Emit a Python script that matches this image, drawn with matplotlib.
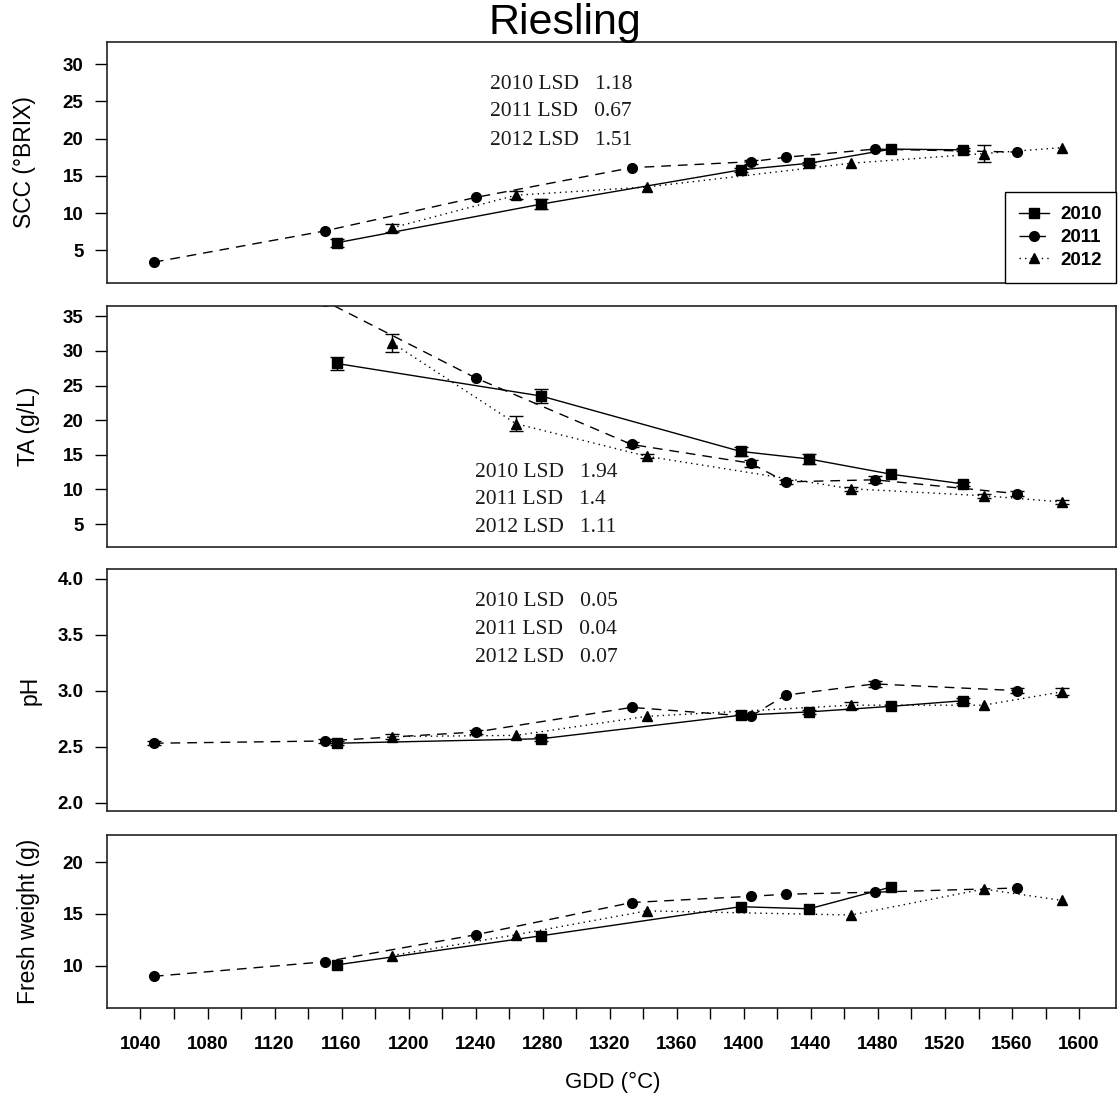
import numpy as np
import matplotlib
matplotlib.use("Agg")
import matplotlib.pyplot as plt

plt.rcParams['font.family'] = ['Liberation Sans', 'DejaVu Sans']

# sampling dates (GDD) for each season
gdd_2010 = [1157, 1279, 1398, 1439, 1488, 1531]
gdd_2011 = [1048, 1150, 1240, 1333, 1404, 1425, 1478, 1563]
gdd_2012 = [1190, 1264, 1342, 1464, 1543, 1590]

# soluble solids (Brix)
scc_2010 = [6.0, 11.2, 15.8, 16.7, 18.6, 18.5]
scc_2011 = [3.4, 7.6, 12.1, 16.1, 16.9, 17.5, 18.6, 18.2]
scc_2012 = [8.0, 12.4, 13.5, 16.7, 18.0, 18.8]
scc_err_2010 = [0.5, 0.7, 0.3, 0.2, 0.0, 0.2]
scc_err_2011 = [0.0, 0.0, 0.0, 0.0, 0.3, 0.0, 0.0, 0.0]
scc_err_2012 = [0.5, 0.5, 0.0, 0.0, 1.1, 0.0]

# titratable acidity (g/L)
ta_2010 = [28.2, 23.5, 15.5, 14.4, 12.2, 10.8]
ta_2011 = [41.0, 37.2, 26.1, 16.5, 13.8, 11.1, 11.4, 9.4]
ta_2012 = [31.2, 19.5, 14.8, 10.1, 9.1, 8.2]
ta_err_2010 = [0.9, 0.95, 0.7, 0.7, 0.0, 0.3]
ta_err_2011 = [0.0, 0.0, 0.0, 0.3, 0.5, 0.3, 0.5, 0.4]
ta_err_2012 = [1.3, 1.1, 0.3, 0.3, 0.3, 0.3]

# pH
ph_2010 = [2.53, 2.57, 2.78, 2.81, 2.86, 2.91]
ph_2011 = [2.53, 2.55, 2.63, 2.85, 2.77, 2.96, 3.06, 3.00]
ph_2012 = [2.59, 2.60, 2.77, 2.87, 2.87, 2.99]
ph_err_2010 = [0.02, 0.02, 0.0, 0.02, 0.0, 0.02]
ph_err_2011 = [0.02, 0.02, 0.02, 0.0, 0.0, 0.0, 0.03, 0.02]
ph_err_2012 = [0.02, 0.0, 0.0, 0.03, 0.0, 0.03]

# berry fresh weight (g)
fw_2010 = [10.1, 12.9, 15.7, 15.5, 17.6, np.nan]
fw_2011 = [9.0, 10.4, 13.0, 16.1, 16.7, 16.9, 17.1, 17.5]
fw_2012 = [11.0, 13.0, 15.3, 14.9, 17.4, 16.3]

years = ['2010', '2011', '2012']
lsd_scc = ['1.18', '0.67', '1.51']
lsd_ta = ['1.94', '1.4', '1.11']
lsd_ph = ['0.05', '0.04', '0.07']

x_ticks = list(range(1040, 1601, 20))

styles = {
    '2010': dict(marker='s', linestyle='-'),
    '2011': dict(marker='o', linestyle=(0, (7, 5))),
    '2012': dict(marker='^', linestyle=(0, (1, 3))),
}

fig = plt.figure(figsize=(11.2, 10.99), dpi=100)

rects = [
    [0.0955, 0.7425, 0.9009, 0.2193],
    [0.0955, 0.5023, 0.9009, 0.2193],
    [0.0955, 0.2621, 0.9009, 0.2202],
    [0.0955, 0.0828, 0.9009, 0.1574],
]

panels = [
    dict(y=[scc_2010, scc_2011, scc_2012], e=[scc_err_2010, scc_err_2011, scc_err_2012],
         ylim=(0.6, 33.0), yticks=[5, 10, 15, 20, 25, 30], fmt='%d',
         label='SCC (°BRIX)', lx=24, lsd=lsd_scc, tx=0.380, ty=[0.822, 0.710, 0.593]),
    dict(y=[ta_2010, ta_2011, ta_2012], e=[ta_err_2010, ta_err_2011, ta_err_2012],
         ylim=(1.7, 36.5), yticks=[5, 10, 15, 20, 25, 30, 35], fmt='%d',
         label='TA (g/L)', lx=28, lsd=lsd_ta, tx=0.365, ty=[0.307, 0.195, 0.079]),
    dict(y=[ph_2010, ph_2011, ph_2012], e=[ph_err_2010, ph_err_2011, ph_err_2012],
         ylim=(1.925, 4.087), yticks=[2.0, 2.5, 3.0, 3.5, 4.0], fmt='%.1f',
         label='pH', lx=30, lsd=lsd_ph, tx=0.365, ty=[0.864, 0.748, 0.636]),
    dict(y=[fw_2010, fw_2011, fw_2012], e=None,
         ylim=(5.95, 22.6), yticks=[10, 15, 20], fmt='%d',
         label='Fresh weight (g)', lx=29, lsd=None),
]

xs = [gdd_2010, gdd_2011, gdd_2012]

for i, (rect, p) in enumerate(zip(rects, panels)):
    ax = fig.add_axes(rect)
    handles = []
    for k, yr in enumerate(years):
        h, = ax.plot(xs[k], p['y'][k], color='black', linewidth=1.0,
                     markersize=7, label=yr, **styles[yr])
        handles.append(h)
        if p['e'] is not None:
            err = np.array(p['e'][k])
            mask = err > 0
            ax.errorbar(np.array(xs[k])[mask], np.array(p['y'][k])[mask],
                        yerr=err[mask], fmt='none', ecolor='black',
                        elinewidth=1.0, capsize=5, capthick=1.0)
    ax.set_xlim(1020, 1622)
    ax.set_ylim(*p['ylim'])
    ax.set_yticks(p['yticks'])
    ax.set_yticklabels([p['fmt'] % v for v in p['yticks']],
                       fontsize=13.5, fontweight='bold')
    ax.tick_params(axis='y', direction='out', length=9, width=1.0, pad=8)
    for s in ax.spines.values():
        s.set_linewidth(1.2)
        s.set_color('#222222')
    if i < 3:
        ax.set_xticks([])
    else:
        ax.set_xticks(x_ticks)
        ax.set_xticklabels([str(t) if (t - 1040) % 40 == 0 else '' for t in x_ticks],
                           fontsize=13.5, fontweight='bold')
        ax.tick_params(axis='x', direction='out', length=8, width=1.0, pad=12)
    cy = rect[1] + rect[3] / 2
    fig.text(p['lx'] / 1120, cy, p['label'], rotation=90, ha='center', va='center',
             fontsize=16.5)
    if p['lsd'] is not None:
        for k, yr in enumerate(years):
            ax.text(p['tx'], p['ty'][k], yr + ' LSD   ' + p['lsd'][k],
                    transform=ax.transAxes, ha='left', va='center',
                    fontsize=15.5, family='Liberation Serif', color='#1a1a1a')
    if i == 0:
        leg = ax.legend(handles=handles, loc='lower right', borderaxespad=0,
                        fancybox=False, edgecolor='black', framealpha=1,
                        prop=dict(size=13.5, weight='bold'),
                        handlelength=1.6, handletextpad=0.6, labelspacing=0.3,
                        borderpad=0.75)
        leg.get_frame().set_linewidth(1.0)

fig.text(0.504, 0.979, 'Riesling', ha='center', va='center', fontsize=31)
fig.text(613 / 1120, 1 - 1082 / 1099, 'GDD (°C)', ha='center', va='center', fontsize=16)

fig.savefig('out.png', dpi=100)
